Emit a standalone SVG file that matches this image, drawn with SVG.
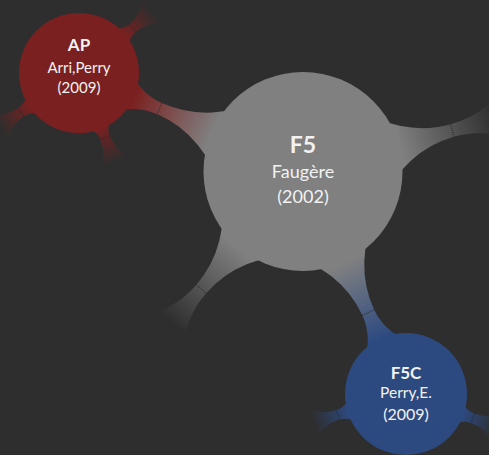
<svg xmlns="http://www.w3.org/2000/svg" width="489" height="455" viewBox="0 0 489 455">
  <style>
    text { font-family: Lato, "Open Sans", "Liberation Sans", sans-serif; fill: #f2f2f2; text-anchor: middle; }
    .title { font-weight: bold; }
    .tick { stroke: #262626; stroke-width: 0.9; stroke-dasharray: 1 1; fill: none; }
  </style>
  <defs>
    <!-- bar shadings, in each bar's own rotated frame (x runs from parent centre outward) -->
    <linearGradient id="g-ap-f5" gradientUnits="userSpaceOnUse" x1="60" y1="0" x2="146" y2="0">
      <stop offset="0" stop-color="#7a2020"/>
      <stop offset="1" stop-color="#808080"/>
    </linearGradient>
    <linearGradient id="g-f5-f5c" gradientUnits="userSpaceOnUse" x1="100" y1="0" x2="184" y2="0">
      <stop offset="0" stop-color="#808080"/>
      <stop offset="1" stop-color="#2d4a80"/>
    </linearGradient>
    <linearGradient id="g-f5-out" gradientUnits="userSpaceOnUse" x1="100" y1="0" x2="200" y2="0">
      <stop offset="0" stop-color="#808080" stop-opacity="1"/>
      <stop offset="1" stop-color="#808080" stop-opacity="0"/>
    </linearGradient>
    <linearGradient id="g-ap-out" gradientUnits="userSpaceOnUse" x1="58" y1="0" x2="96" y2="0">
      <stop offset="0" stop-color="#7a2020" stop-opacity="1"/>
      <stop offset="1" stop-color="#7a2020" stop-opacity="0"/>
    </linearGradient>
    <linearGradient id="g-f5c-out" gradientUnits="userSpaceOnUse" x1="59" y1="0" x2="97" y2="0">
      <stop offset="0" stop-color="#2d4a80" stop-opacity="1"/>
      <stop offset="1" stop-color="#2d4a80" stop-opacity="0"/>
    </linearGradient>
  </defs>

  <rect width="489" height="455" fill="#2e2e2e"/>

  <g id="connectors">
    <!-- AP to F5 -->
    <g transform="translate(79,73) rotate(23.85)">
      <path fill="url(#g-ap-f5)" d="M0,0 L40,30 A60,60 0 0 1 88,6 A110,110 0 0 1 176.8,50.6 L245,0 L176.8,-50.6 A110,110 0 0 1 88,-6 A60,60 0 0 1 40,-30 Z"/>
      <line class="tick" x1="88" y1="-6" x2="88" y2="6"/>
    </g>
    <!-- F5 to F5C -->
    <g transform="translate(303,172) rotate(65.1)">
      <path fill="url(#g-f5-f5c)" d="M0,0 L68.7,50.3 A107,107 0 0 1 155,6.5 A59,59 0 0 1 202.6,30.7 L244.7,0 L202.6,-30.7 A59,59 0 0 1 155,-6.5 A107,107 0 0 1 68.7,-50.3 Z"/>
      <line class="tick" x1="155" y1="-6.5" x2="155" y2="6.5"/>
    </g>
    <!-- F5 outgoing bars -->
    <g transform="translate(303,172) rotate(-15.5)">
      <path fill="url(#g-f5-out)" d="M0,0 L68.7,50.3 A107,107 0 0 1 155,6.5 A100,100 0 0 1 215,26.5 L260,0 L215,-26.5 A100,100 0 0 1 155,-6.5 A107,107 0 0 1 68.7,-50.3 Z"/>
      <line class="tick" x1="155" y1="-6.5" x2="155" y2="6.5"/>
    </g>
    <g transform="translate(303,172) rotate(131)">
      <path fill="url(#g-f5-out)" d="M0,0 L68.7,50.3 A107,107 0 0 1 155,6.5 A100,100 0 0 1 215,26.5 L260,0 L215,-26.5 A100,100 0 0 1 155,-6.5 A107,107 0 0 1 68.7,-50.3 Z"/>
      <line class="tick" x1="155" y1="-6.5" x2="155" y2="6.5"/>
    </g>
    <!-- AP outgoing bars -->
    <g transform="translate(79,73) rotate(-40)">
      <path fill="url(#g-ap-out)" d="M0,0 L51.2,18.3 A20,20 0 0 1 70,5 A40,40 0 0 1 100,18.5 L120,0 L100,-18.5 A40,40 0 0 1 70,-5 A20,20 0 0 1 51.2,-18.3 Z"/>
      <line class="tick" x1="70" y1="-5" x2="70" y2="5"/>
    </g>
    <g transform="translate(79,73) rotate(146)">
      <path fill="url(#g-ap-out)" d="M0,0 L51.2,18.3 A20,20 0 0 1 70,5 A40,40 0 0 1 100,18.5 L120,0 L100,-18.5 A40,40 0 0 1 70,-5 A20,20 0 0 1 51.2,-18.3 Z"/>
      <line class="tick" x1="70" y1="-5" x2="70" y2="5"/>
    </g>
    <g transform="translate(79,73) rotate(68)">
      <path fill="url(#g-ap-out)" d="M0,0 L51.2,18.3 A20,20 0 0 1 70,5 A40,40 0 0 1 100,18.5 L120,0 L100,-18.5 A40,40 0 0 1 70,-5 A20,20 0 0 1 51.2,-18.3 Z"/>
      <line class="tick" x1="70" y1="-5" x2="70" y2="5"/>
    </g>
    <!-- F5C outgoing bars -->
    <g transform="translate(406,394) rotate(163)">
      <path fill="url(#g-f5c-out)" d="M0,0 L52.2,18.3 A20,20 0 0 1 71,5 A40,40 0 0 1 101,18.5 L121,0 L101,-18.5 A40,40 0 0 1 71,-5 A20,20 0 0 1 52.2,-18.3 Z"/>
      <line class="tick" x1="71" y1="-5" x2="71" y2="5"/>
    </g>
    <g transform="translate(406,394) rotate(20)">
      <path fill="url(#g-f5c-out)" d="M0,0 L52.2,18.3 A20,20 0 0 1 71,5 A40,40 0 0 1 101,18.5 L121,0 L101,-18.5 A40,40 0 0 1 71,-5 A20,20 0 0 1 52.2,-18.3 Z"/>
      <line class="tick" x1="71" y1="-5" x2="71" y2="5"/>
    </g>
  </g>

  <g id="node-ap">
    <circle cx="79" cy="73" r="60" fill="#7a2020"/>
    <text class="title" x="79" y="51" font-size="17">AP</text>
    <text x="79" y="72.5" font-size="15">Arri,Perry</text>
    <text x="79" y="92.5" font-size="15">(2009)</text>
  </g>

  <g id="node-f5">
    <circle cx="303" cy="171.5" r="99.5" fill="#808080"/>
    <text class="title" x="303" y="153" font-size="23">F5</text>
    <text x="303" y="177.5" font-size="18">Faugère</text>
    <text x="303" y="203" font-size="18">(2002)</text>
  </g>

  <g id="node-f5c">
    <circle cx="406" cy="394" r="61" fill="#2d4a80"/>
    <text class="title" x="406" y="378.5" font-size="17">F5C</text>
    <text x="406" y="397.5" font-size="15.5">Perry,E.</text>
    <text x="406" y="420" font-size="16">(2009)</text>
  </g>
</svg>
